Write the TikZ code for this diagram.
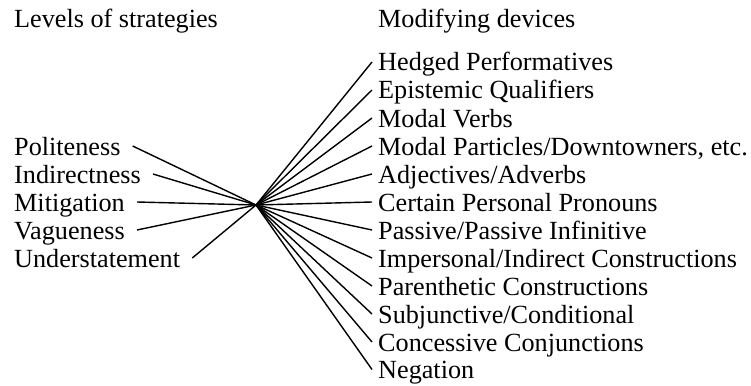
\documentclass[tikz,border=0pt]{standalone}
\usepackage{fontspec}
\setmainfont{Liberation Serif}
\usetikzlibrary{calc}
\begin{document}
\begin{tikzpicture}[x=1pt,y=-1pt,
  lbl/.style={anchor=base west, inner sep=0pt, font=\fontsize{26.2}{28}\selectfont},
  link/.style={line width=1.4pt, black}]
\useasboundingbox (0,0) rectangle (751,385);

% point where all lines meet
\coordinate (hub) at (256,205);

% column headings
\node[lbl] (headL) at (14,28) {Levels of strategies};
\node[lbl] (headR) at (378,28) {Modifying devices};

% levels of strategies (left column)
\node[lbl] (pol) at (14,155) {Politeness};
\node[lbl] (ind) at (14,183) {Indirectness};
\node[lbl] (mit) at (14,211) {Mitigation};
\node[lbl] (vag) at (14,239) {Vagueness};
\node[lbl] (und) at (14,267) {Understatement};

% modifying devices (right column)
\node[lbl] (d1)  at (378,71)  {Hedged Performatives};
\node[lbl] (d2)  at (378,99)  {Epistemic Qualifiers};
\node[lbl] (d3)  at (378,127) {Modal Verbs};
\node[lbl] (d4)  at (378,155) {Modal Particles/Downtowners, etc.};
\node[lbl] (d5)  at (378,183) {Adjectives/Adverbs};
\node[lbl] (d6)  at (378,211) {Certain Personal Pronouns};
\node[lbl] (d7)  at (378,239) {Passive/Passive Infinitive};
\node[lbl] (d8)  at (378,267) {Impersonal/Indirect Constructions};
\node[lbl] (d9)  at (378,295) {Parenthetic Constructions};
\node[lbl] (d10) at (378,323) {Subjunctive/Conditional};
\node[lbl] (d11) at (378,351) {Concessive Conjunctions};
\node[lbl] (d12) at (378,378.5) {Negation};

% strategies to hub
\foreach \n in {pol,ind,mit,vag,und}
  \draw[link] ($(\n.base east)+(12,-9)$) -- (hub);

% hub to devices
\foreach \n in {d1,d2,d3,d4,d5,d6,d7,d8,d9,d10,d11,d12}
  \draw[link] (hub) -- ($(\n.base west)+(-6,-9)$);
\end{tikzpicture}
\end{document}
